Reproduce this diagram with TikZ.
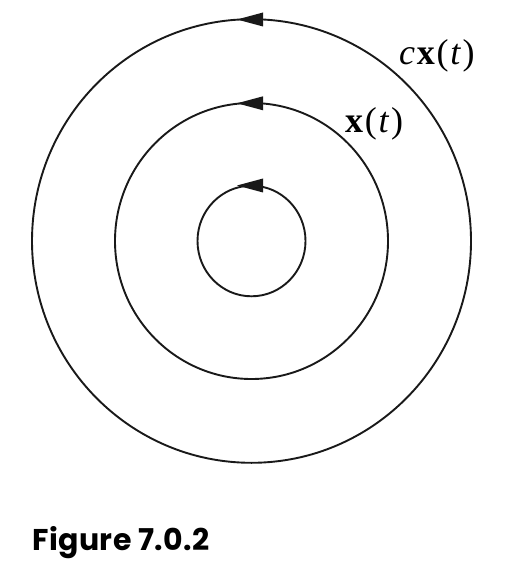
\documentclass[tikz,border=0pt]{standalone}
\usepackage{fontspec}
\setmainfont{Liberation Serif}
\newfontfamily\figfont[LetterSpace=1.5]{Poppins}
\newcommand{\gapk}{\kern1.7pt}
\begin{document}
\begin{tikzpicture}[x=1pt,y=-1pt,
  ring/.style={line width=1.9pt,black!90},
  headtip/.style={fill=black!90,draw=none},
  orbitlabel/.style={inner sep=0pt,anchor=base west,font=\fontsize{36}{40}\selectfont},
  captionlabel/.style={inner sep=0pt,anchor=base west,font=\figfont\bfseries\fontsize{30}{32}\selectfont}]
\useasboundingbox (0,0) rectangle (511,569);
\coordinate (O) at (251.5,241);
\draw[ring] (O) ellipse[x radius=219.5,y radius=221.8];
\draw[ring] (O) ellipse[x radius=136.5,y radius=138];
\draw[ring] (O) ellipse[x radius=54,y radius=55.3];
% arrowheads
\foreach \yy in {19.5,103.3,185.5}{
  \fill[headtip] (237,\yy) -- (263,\yy-7) -- (263,\yy+7) -- cycle;
}
\node[orbitlabel] (cx) at (399,65) {\textit{c}\gapk\textbf{x}\gapk(\gapk\textit{t}\gapk)};
\node[orbitlabel] (x) at (345,133) {\textbf{x}\gapk(\gapk\textit{t}\gapk)};
\node[captionlabel] (fig) at (32,550) {Figure 7.0.2};
\end{tikzpicture}
\end{document}
